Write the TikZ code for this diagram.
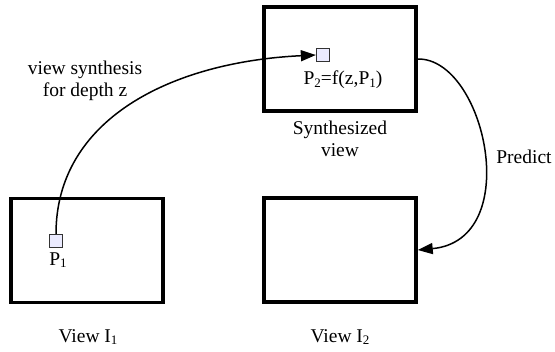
\documentclass[tikz,border=0pt]{standalone}
\usepackage{fontspec}
\setmainfont{Liberation Serif}
\usetikzlibrary{arrows.meta}
\newcommand{\sbs}[1]{\raisebox{-0.3ex}{\fontsize{13}{13}\selectfont #1}}
\begin{document}
\begin{tikzpicture}[x=1pt,y=-1pt,
  view/.style={draw,line width=3.5pt,minimum width=152pt,minimum height=104pt,inner sep=0pt},
  pix/.style={draw=black!80,line width=1.3pt,fill=blue!8!white,minimum size=13pt,inner sep=0pt},
  lbl/.style={font=\fontsize{19.5}{22}\selectfont,align=center,inner sep=0pt},
  conn/.style={line width=1.5pt,-{Triangle[length=15pt,width=11pt]}}]
\useasboundingbox (0,0) rectangle (555,352);
\node[view] (v1) at (87,250.5) {};
\node[view] (syn) at (340,59) {};
\node[view] (v2) at (340,250) {};
\node[pix] (p1) at (56,241) {};
\node[pix] (p2) at (323,55) {};
\node[lbl] (p1l) at (58,260) {P\sbs{1}};
\node[lbl] (p2l) at (343,80) {P\sbs{2}=f(z,P\sbs{1})};
\node[lbl] (vs) at (85,81) {view synthesis\\for depth z};
\node[lbl] (synl) at (340,139) {Synthesized\\view};
\node[lbl] (pred) at (524,157) {Predict};
\node[lbl] (v1l) at (88,337) {View I\sbs{1}};
\node[lbl] (v2l) at (340,337) {View I\sbs{2}};
\draw[conn] (p1.north) .. controls (56,120) and (170,62) .. (p2.west);
\draw[conn] (syn.east) .. controls (485,58) and (525,240) .. (v2.east);
\end{tikzpicture}
\end{document}
